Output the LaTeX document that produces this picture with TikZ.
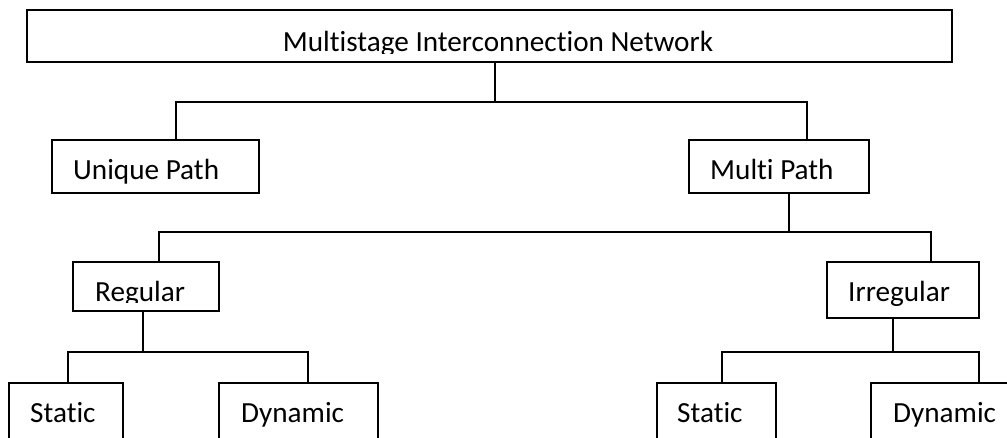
\documentclass[tikz,border=0pt]{standalone}
\usepackage{fontspec}
\setmainfont{Carlito}[Ligatures={NoCommon}]
\begin{document}
\begin{tikzpicture}[x=1pt,y=-1pt,
  box/.style={draw=black,line width=1.8pt,rectangle,inner sep=0pt,outer sep=0pt,anchor=north west},
  lbl/.style={anchor=base west,inner sep=0pt,font=\fontsize{29.2}{34}\selectfont},
  link/.style={draw=black,line width=1.8pt}]
\useasboundingbox (0,0) rectangle (1007,437);
\clip (0,0) rectangle (1007,437);

% boxes
\node[box,minimum width=925pt,minimum height=52pt] (top) at (27,10) {};
\node[box,minimum width=207pt,minimum height=53pt] (unique) at (52,140) {};
\node[box,minimum width=180pt,minimum height=53pt] (multi) at (689,140) {};
\node[box,minimum width=146pt,minimum height=49pt] (regular) at (73,262) {};
\node[box,minimum width=152pt,minimum height=56pt] (irregular) at (827,262) {};
\node[box,minimum width=114pt,minimum height=80pt] (staticA) at (9,383) {};
\node[box,minimum width=159pt,minimum height=80pt] (dynamicA) at (219,383) {};
\node[box,minimum width=119pt,minimum height=80pt] (staticB) at (657,383) {};
\node[box,minimum width=160pt,minimum height=80pt] (dynamicB) at (871,383) {};

% labels (the two upper ones are clipped just below their baseline)
\begin{scope}
  \clip (27,10) rectangle (952,53);
  \node[lbl,anchor=base] (topt) at (498,51) {Multistage Interconnection Network};
\end{scope}
\begin{scope}
  \clip (73,262) rectangle (219,302);
  \node[lbl] (regulart) at (95,301.5) {Regular};
\end{scope}
\node[lbl] (uniquet) at (73,179) {Unique Path};
\node[lbl] (multit) at (710,179) {Multi Path};
\node[lbl] (irregulart) at (848,301) {Irregular};
\node[lbl] (staticAt) at (30,422) {Static};
\node[lbl] (dynamicAt) at (241,422) {Dynamic};
\node[lbl] (staticBt) at (677,422) {Static};
\node[lbl] (dynamicBt) at (893,422) {Dynamic};

% junction points of the tree
\coordinate (j1) at (495,102);
\coordinate (j2) at (789,232);
\coordinate (j3) at (143,352);
\coordinate (j4) at (893,352);

% connectors
\draw[link] (top.south -| j1) -- (j1);
\draw[link] ([xshift=124pt]unique.north west) |- (j1) -| ([xshift=118pt]multi.north west);
\draw[link] (multi.south -| j2) -- (j2);
\draw[link] ([xshift=86pt]regular.north west) |- (j2) -| ([xshift=104pt]irregular.north west);
\draw[link] (regular.south -| j3) -- (j3);
\draw[link] ([xshift=59pt]staticA.north west) |- (j3) -| ([xshift=89pt]dynamicA.north west);
\draw[link] (irregular.south -| j4) -- (j4);
\draw[link] ([xshift=65pt]staticB.north west) |- (j4) -| ([xshift=108pt]dynamicB.north west);
\end{tikzpicture}
\end{document}
